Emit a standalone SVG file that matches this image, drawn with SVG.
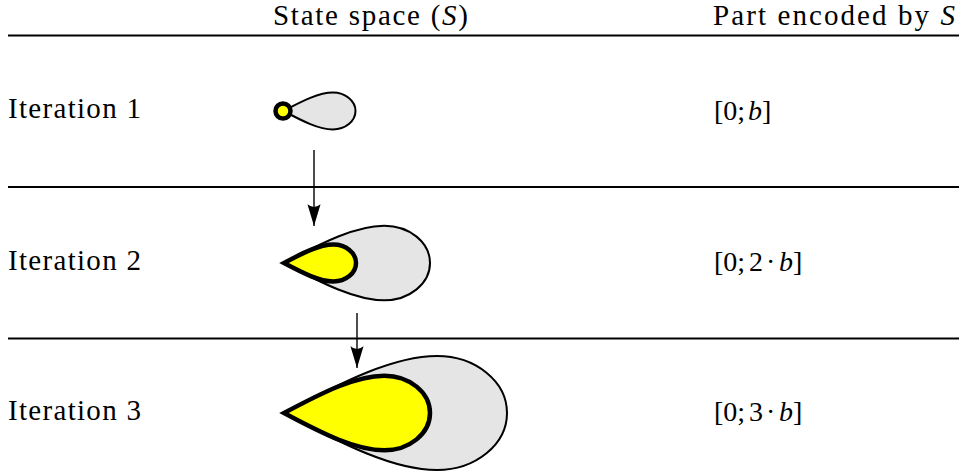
<svg xmlns="http://www.w3.org/2000/svg" xmlns:xlink="http://www.w3.org/1999/xlink" width="959" height="474" viewBox="0 0 959 474">
<style>
.t{font-family:'Liberation Serif','DejaVu Serif','Times New Roman',serif;font-size:29px;fill:#000}
.m{font-family:'Liberation Serif','DejaVu Serif','Times New Roman',serif;font-size:28px;fill:#000}
.i{font-style:italic}
.rule{stroke:#000;stroke-width:1.8}
.outer{fill:#e5e5e5;stroke:#000;stroke-width:2}
.inner{fill:#ffff00;stroke:#000;stroke-width:4.5;stroke-linejoin:miter;stroke-miterlimit:20}
.conn{stroke:#000;stroke-width:1.4;fill:none}
</style>
<defs>
<path id="dropS" d="M0,0 C19.4,-10.3 35.5,-18.4 49.4,-18.4 A22.6,18.4 0 0 1 72,0 A22.6,18.4 0 0 1 49.4,18.4 C35.5,18.4 19.4,10.3 0,0 Z"/>
<path id="dropM" d="M0,0 C39.3,-21 72,-37.3 100.2,-37.3 A45.8,37.3 0 0 1 146,0 A45.8,37.3 0 0 1 100.2,37.3 C72,37.3 39.3,21 0,0 Z"/>
<path id="dropL" d="M0,0 C60,-32 110,-57 153,-57 A70,57 0 0 1 223,0 A70,57 0 0 1 153,57 C110,57 60,32 0,0 Z"/>
<marker id="arr" markerUnits="userSpaceOnUse" markerWidth="24" markerHeight="16" viewBox="-21 -7 22 14" refX="0" refY="0" orient="auto">
<path d="M0,0 L-20,-6 Q-15,0 -20,6 Z" fill="#000"/>
</marker>
</defs>
<g id="header">
<text class="t" x="273" y="25" textLength="195" lengthAdjust="spacing">State space (<tspan class="i">S</tspan>)</text>
<text class="t" x="713" y="25" textLength="242" lengthAdjust="spacing">Part encoded by <tspan class="i">S</tspan></text>
<line class="rule" x1="8" y1="35.5" x2="959" y2="35.5"/>
</g>
<g id="row1">
<text class="t" x="8" y="118" textLength="133" lengthAdjust="spacing">Iteration 1</text>
<use xlink:href="#dropS" class="outer" transform="translate(283.5,111)"/>
<circle cx="283" cy="111" r="7.5" fill="#ffff00" stroke="#000" stroke-width="4.5"/>
<text class="m" x="714" y="120">[0;<tspan class="i" x="748">b</tspan><tspan x="762">]</tspan></text>
</g>
<line class="rule" x1="8" y1="187" x2="959" y2="187"/>
<g id="row2">
<text class="t" x="8" y="270" textLength="133" lengthAdjust="spacing">Iteration 2</text>
<use xlink:href="#dropM" class="outer" transform="translate(284,263)"/>
<use xlink:href="#dropS" class="inner" transform="translate(284,263)"/>
<text class="m" x="714" y="271">[0;<tspan x="749">2</tspan><tspan x="766">·</tspan><tspan class="i" x="779">b</tspan><tspan x="793">]</tspan></text>
</g>
<line class="rule" x1="8" y1="338.5" x2="959" y2="338.5"/>
<g id="row3">
<text class="t" x="8" y="420" textLength="133" lengthAdjust="spacing">Iteration 3</text>
<use xlink:href="#dropL" class="outer" transform="translate(284,413)"/>
<use xlink:href="#dropM" class="inner" transform="translate(284,413)"/>
<text class="m" x="714" y="421">[0;<tspan x="749">3</tspan><tspan x="766">·</tspan><tspan class="i" x="779">b</tspan><tspan x="793">]</tspan></text>
</g>
<g id="connectors">
<line class="conn" x1="314" y1="150" x2="314" y2="226" marker-end="url(#arr)"/>
<line class="conn" x1="357" y1="313" x2="357" y2="368" marker-end="url(#arr)"/>
</g>
</svg>
